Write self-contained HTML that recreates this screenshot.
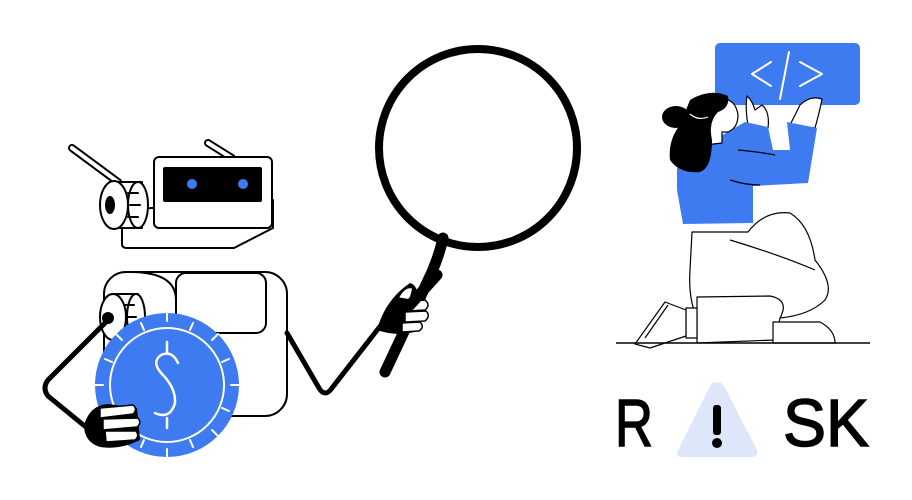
<!DOCTYPE html>
<html><head><meta charset="utf-8"><style>
html,body{margin:0;padding:0;background:#fff;width:912px;height:500px;overflow:hidden}
svg{display:block}
</style></head><body>
<svg width="912" height="500" viewBox="0 0 912 500" xmlns="http://www.w3.org/2000/svg">
<g fill="none" stroke="#000" stroke-linejoin="round" stroke-linecap="round">
<circle cx="478" cy="148" r="99" stroke-width="8"/>
<path d="M443 238 C440 252 436 262 432 272 L385 372" stroke-width="11"/>
<path d="M72 148 L118 182" stroke-width="8"/>
<path d="M72 148 L118 182" stroke="#fff" stroke-width="4"/>
<path d="M208 143 L232 158" stroke-width="8"/>
<path d="M208 143 L232 158" stroke="#fff" stroke-width="4"/>
<path d="M122 210 L122 244 Q122 248 127 248 L234 248 L273 228 L273 200 Z" fill="#fff" stroke-width="2"/>
<path d="M112 182 L142 182 L142 228 L112 228" fill="#fff" stroke-width="2"/>
<ellipse cx="138" cy="205" rx="10" ry="23" fill="#fff" stroke-width="2"/>
<ellipse cx="114" cy="205" rx="14" ry="24" fill="#fff" stroke-width="2"/>
<ellipse cx="110" cy="205" rx="5" ry="9" fill="#000" stroke="none"/>
<path d="M128 193h10M130 205h10M128 217h10" stroke-width="2"/>
<rect x="154" y="157" width="118" height="71" rx="5" fill="#fff" stroke-width="2"/>
<rect x="163" y="167" width="99" height="35" rx="2" fill="#000" stroke="none"/>
<circle cx="192" cy="184" r="5" fill="#3f7bf0" stroke="none"/>
<circle cx="243" cy="184" r="5" fill="#3f7bf0" stroke="none"/>
<rect x="104" y="272" width="183" height="144" rx="22" fill="#fff" stroke-width="2"/>
<path d="M130 272 Q176 272 176 300 L176 332" stroke-width="2"/>
<rect x="176" y="273" width="90" height="60" rx="10" fill="#fff" stroke-width="2"/>
<path d="M112 294 L138 294 L138 340 L112 340" fill="#fff" stroke-width="2"/>
<ellipse cx="136" cy="317" rx="9" ry="23" fill="#fff" stroke-width="2"/>
<ellipse cx="113" cy="317" rx="13" ry="23" fill="#fff" stroke-width="2"/>
<circle cx="108" cy="318" r="6" fill="#000" stroke="none"/>
<path d="M124 305h10M126 317h10" stroke-width="2"/>
<path d="M108 320 L48 380 Q42 388 48 396 L92 432" stroke-width="5"/>
<path d="M287 333 L319 388 Q325 398 332 388 L385 320" stroke-width="5"/>
<circle cx="167" cy="385" r="72" fill="#3f7bf0" stroke="none"/>
<circle cx="167" cy="385" r="57" stroke="#fff" stroke-width="2"/>
<g stroke="#fff" stroke-width="2">
<path d="M167 313v8M167 449v8M95 385h8M231 385h8M116 334l6 6M212 430l6 6M218 334l-6 6M122 430l-6 6"/>
<path d="M141 323l3 7M193 447l-3-7M193 323l-3 7M141 447l3-7M105 359l7 3M229 411l-7-3M229 359l-7 3M105 411l7-3"/>
<path d="M167 342v10M167 418v10M178 363 Q172 350 161 355 Q151 362 162 374 Q176 388 175 403 Q170 420 155 413" stroke-width="2.5"/>
</g>
<path d="M84 425 Q90 405 108 404 L137 408 L140 440 Q120 450 100 447 Q84 442 84 425Z" fill="#000" stroke="none"/>
<g fill="#fff" stroke="#000" stroke-width="1.5">
<path d="M100 408 L133 405 Q138 409 133 414 L100 418Z"/>
<path d="M103 419 L138 418 Q142 423 137 427 L103 430Z"/>
<path d="M105 431 L136 431 Q140 436 135 440 L106 442Z"/>
</g>
<path d="M377 330 Q385 300 410 283 Q418 285 418 300 L420 330 Q400 338 377 330Z" fill="#000" stroke="none"/>
<g fill="#fff" stroke="#000" stroke-width="1.5">
<path d="M398 298 Q405 285 413 288 L410 300Z"/>
<path d="M408 302 L425 300 Q431 305 425 310 L408 311Z"/>
<path d="M405 312 L426 311 Q431 316 425 321 L405 322Z"/>
<path d="M402 323 L420 322 Q425 327 419 331 L402 332Z"/>
</g>
<path d="M437 275 L410 305" stroke-width="11"/>
</g>

<g stroke="#000" stroke-width="1.2" fill="none" stroke-linejoin="round">
<rect x="715" y="43" width="145" height="62" rx="5" fill="#3f7bf0" stroke="none"/>
<g stroke="#fff" stroke-width="2" stroke-linecap="round">
<path d="M771 62 L752 74 L771 86"/>
<path d="M789 52 L780 99"/>
<path d="M800 62 L822 74 L800 86"/>
</g>
<path d="M692 232 L748 232 Q765 210 790 213 Q810 225 815 260 Q835 285 825 300 Q810 315 780 318 L698 320 Q688 300 690 270Z" fill="#fff"/>
<path d="M730 240 Q780 255 815 270" />
<path d="M697 297 L770 296 Q790 300 780 318 L775 340 L697 343Z" fill="#fff"/>
<path d="M773 322 L820 322 Q835 330 835 343 L773 343Z" fill="#fff"/>
<path d="M686 308 L697 308 L697 338 L686 338Z" fill="#fff"/>
<path d="M665 302 L686 310 L686 336 L650 348 L635 344Z" fill="#fff"/>
<path d="M645 338 L668 305"/>
<path d="M616 343 L870 343" stroke-width="1.5"/>
<path d="M748 125 Q745 108 747 96 Q752 100 755 110 L762 105 Q770 112 768 128Z" fill="#fff"/>
<path d="M790 125 L800 105 Q810 95 822 99 Q820 110 815 128Z" fill="#fff"/>
<path d="M677 168 L700 148 L745 122 L768 127 L773 150 L790 150 L787 122 L817 128 L808 183 L753 186 L753 223 L683 224 L677 190Z" fill="#3f7bf0" stroke="none"/>
<path d="M738 150 Q760 152 775 155 M730 180 Q745 185 760 185" />
<path d="M715 100 Q735 95 738 115 Q738 128 728 132 L722 132 L722 143 L705 145Z" fill="#fff"/>
<path d="M690 100 Q710 88 728 96 Q730 108 718 112 Q708 122 712 140 Q712 168 700 172 Q680 174 670 160 Q668 140 680 125Z" fill="#000" stroke="none"/>
<ellipse cx="676" cy="117" rx="14" ry="11" fill="#000" stroke="none"/>
<path d="M690 114 Q698 121 708 117" stroke="#fff" stroke-width="1.2"/>
</g>
<path d="M717 383 Q721 381 724 386 L757 450 Q759 457 752 457 L682 457 Q675 457 678 450 L710 386 Q713 381 717 383Z" fill="#dde7f9"/>
<text x="615" y="446" font-family="Liberation Sans, sans-serif" font-size="67" fill="#000" stroke="#000" stroke-width="1.5" textLength="38" lengthAdjust="spacingAndGlyphs">R</text>
<rect x="713" y="405" width="8" height="30" rx="3" fill="#000"/>
<circle cx="717" cy="443" r="5" fill="#000"/>
<text x="783" y="446" font-family="Liberation Sans, sans-serif" font-size="67" fill="#000" stroke="#000" stroke-width="1.5" textLength="86" lengthAdjust="spacingAndGlyphs">SK</text>
</svg>
</body></html>
